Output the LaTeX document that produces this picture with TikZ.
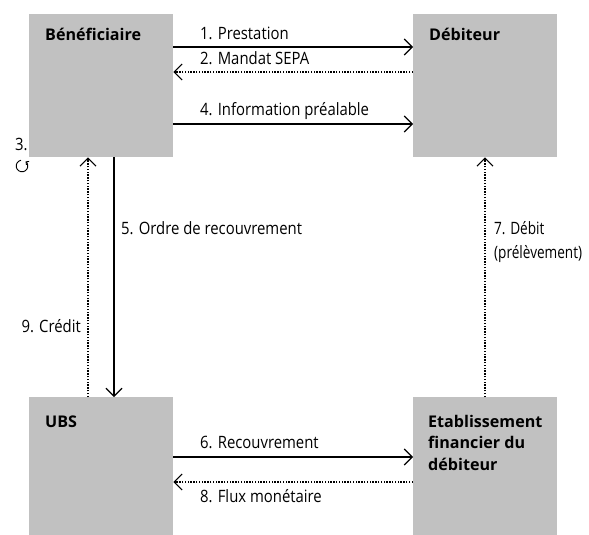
\documentclass[tikz,border=0pt]{standalone}
\usepackage{fontspec}
\setmainfont[FakeStretch=0.875,BoldFeatures={FakeStretch=1.0}]{Open Sans}
\newfontfamily\narrowfont[FakeStretch=0.8]{Open Sans}
\usetikzlibrary{arrows.meta}
\definecolor{boxgray}{RGB}{193,193,193}
\begin{document}
\begin{tikzpicture}[x=1bp,y=-1bp,
  box/.style={fill=boxgray,draw=none,minimum width=144bp,minimum height=143bp,inner sep=0pt,anchor=north west},
  title/.style={font=\fontsize{16.1bp}{21.5bp}\selectfont\bfseries,anchor=base west,inner sep=0pt,align=left},
  lab/.style={font=\fontsize{17bp}{23bp}\selectfont,inner sep=0pt,align=left,anchor=base west},
  sol/.style={line width=1.1bp,-{Straight Barb[length=8bp,width=16bp,line width=1.1bp]}},
  dot/.style={line width=1.2bp,dash pattern=on 1.4bp off 1.4bp,-{Straight Barb[length=8bp,width=16bp,line width=1.1bp,sep=0pt]}}
]
\useasboundingbox (0,0) rectangle (589,535);
\node[box] (ben) at (29,14) {};
\node[box] (deb) at (413,14) {};
\node[box,minimum height=138bp] (ubs) at (29,397) {};
\node[box,minimum height=138bp] (efd) at (413,397) {};
\node[title] (tben) at (45,41) {Bénéficiaire};
\node[title] (tdeb) at (429,41) {Débiteur};
\node[title] (tubs) at (45,427) {UBS};
\node[title] (tefd) at (428,470) {Etablissement\\financier du\\débiteur};

% top arrows
\draw[sol] (ben.east |- 0,47) -- (deb.west |- 0,47);
\draw[dot] (deb.west |- 0,72) -- (ben.east |- 0,72);
\draw[sol] (ben.east |- 0,124) -- (deb.west |- 0,124);
\node[lab] (l1) at (200,40) {1. Prestation};
\node[lab] (l2) at (200,65) {2. Mandat SEPA};
\node[lab] (l4) at (200,116) {4. Information préalable};

% self step
\node[lab] (l3) at (15,151) {3.};
\coordinate (cyc) at (22,166);
\draw[line width=0.9bp,-{Straight Barb[length=2.2bp,width=4.5bp,line width=0.9bp]}] (cyc) ++(100:5.8bp) arc[start angle=100,end angle=412,radius=5.8bp];

% verticals
\draw[sol] (ben.south -| 114,0) -- (ubs.north -| 114,0);
\draw[dot] (ubs.north -| 88,0) -- (ben.south -| 88,0);
\draw[dot] (efd.north -| 485,0) -- (deb.south -| 485,0);
\node[lab] (l5) at (121,235) {5. Ordre de recouvrement};
\node[lab,anchor=base east] (l9) at (81,332) {9. Crédit};
\node[lab,font=\narrowfont\fontsize{17bp}{23bp}\selectfont] (l7) at (494,258) {7. Débit\\(prélèvement)};

% bottom arrows
\draw[sol] (ubs.east |- 0,457) -- (efd.west |- 0,457);
\draw[dot] (efd.west |- 0,482) -- (ubs.east |- 0,482);
\node[lab] (l6) at (200,448) {6. Recouvrement};
\node[lab] (l8) at (200,502) {8. Flux monétaire};
\end{tikzpicture}
\end{document}
